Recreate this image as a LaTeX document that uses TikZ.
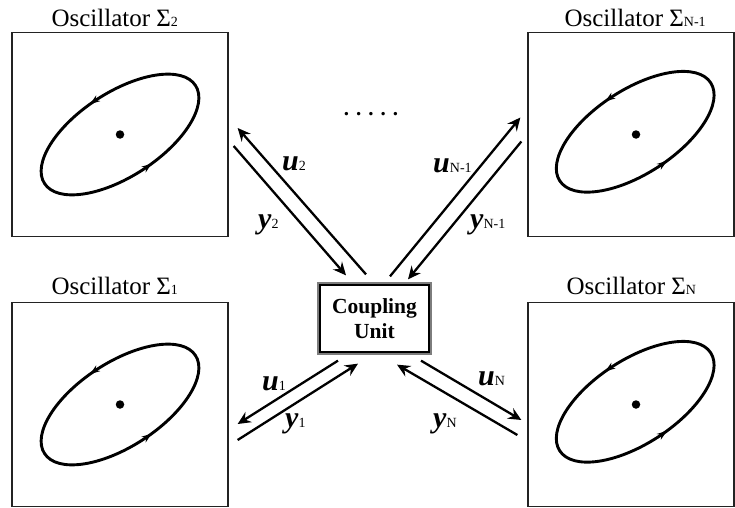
\documentclass[tikz,border=0pt]{standalone}
\usepackage{fontspec}
\setmainfont{Liberation Serif}
\usepackage{tikz}
\usetikzlibrary{arrows.meta, positioning, calc, decorations.markings}
\definecolor{myframe}{RGB}{35,35,35}
\definecolor{mygray}{RGB}{125,125,125}
\newcommand{\sbs}[1]{{\fontsize{14}{14}\selectfont #1}}
\newcommand{\sgl}[1]{\textbf{\textit{#1}}}
\tikzset{
  oscbox/.style={rectangle, draw=myframe, line width=1.3pt,
    minimum width=216pt, minimum height=204pt, inner sep=0pt},
  osclabel/.style={anchor=base west, inner sep=0pt,
    font=\fontsize{25}{27}\selectfont},
  siglabel/.style={anchor=base west, inner sep=0pt,
    font=\fontsize{30}{32}\selectfont},
  orbit/.style={line width=2.9pt, postaction={decorate},
    decoration={markings,
      mark=at position 0.27 with {\arrow{Stealth[length=10pt,width=7pt]}},
      mark=at position 0.775 with {\arrow{Stealth[length=10pt,width=7pt]}}}},
  eq/.style={circle, fill=black, inner sep=0pt, minimum size=8.5pt},
  sigarrow/.style={-{Stealth[length=13pt,width=12pt,inset=4.5pt]},
    line width=2.3pt}
}

\begin{document}
\begin{tikzpicture}[x=1pt, y=1pt,
  cunit/.style={rectangle, draw=mygray, line width=1.3pt,
    minimum width=113pt, minimum height=71pt, align=center,
    font=\fontsize{21.5}{25}\selectfont\bfseries}]
  \useasboundingbox (0,0) rectangle (735,507);
  % oscillators
  \node[oscbox] (osc2) at (120,372.5) {};
  \node[oscbox] (osc1) at (120,102.5) {};
  \node[oscbox, minimum width=206pt] (oscN1) at (631,372.5) {};
  \node[oscbox, minimum width=206pt] (oscN) at (631,102.5) {};
  \node[osclabel] (lab2) at ([shift={(40,5.5)}]osc2.north west) {Oscillator Σ\sbs{2}};
  \node[osclabel] (lab1) at ([shift={(40,7)}]osc1.north west) {Oscillator Σ\sbs{1}};
  \node[osclabel] (labN1) at ([shift={(37,5.5)}]oscN1.north west) {Oscillator Σ\sbs{N-1}};
  \node[osclabel] (labN) at ([shift={(39,7)}]oscN.north west) {Oscillator Σ\sbs{N}};
  \foreach \o/\dx in {osc2/0, osc1/0, oscN1/5, oscN/5} {
    \draw[orbit, rotate around={33:([xshift=\dx]\o.center)}]
      ([xshift=\dx]\o.center) ellipse (90 and 42);
    \node[eq] at ([xshift=\dx]\o.center) {};
  }
  \node (dots) at (371,393) {\fontsize{21}{24}\selectfont\bfseries . . . . .};
  % coupling unit
  \node[cunit] (cu) at (374.5,188.5) {Coupling\\Unit};
  \draw[line width=1.3pt] ([shift={(2.7,-2.7)}]cu.north west)
    rectangle ([shift={(-2.7,2.7)}]cu.south east);
  % signals
  \draw[sigarrow] ([shift={(-8.5,8)}]cu.north) -- ([shift={(9,6.5)}]osc2.east);
  \draw[sigarrow] ([shift={(5,-11.5)}]osc2.east) -- ([shift={(-28.5,7)}]cu.north);
  \draw[sigarrow] ([shift={(15.5,6)}]cu.north) -- ([shift={(-7,17)}]oscN1.west);
  \draw[sigarrow] ([shift={(-6,-7)}]oscN1.west) -- ([shift={(33.5,3)}]cu.north);
  \draw[sigarrow] ([shift={(-36.5,-6)}]cu.south) -- ([shift={(9,-19.5)}]osc1.east);
  \draw[sigarrow] ([shift={(9,-35.5)}]osc1.east) -- ([shift={(-16.5,-9)}]cu.south);
  \draw[sigarrow] ([shift={(-10,-30.5)}]oscN.west) -- ([shift={(22.5,-10)}]cu.south);
  \draw[sigarrow] ([shift={(46.5,-6)}]cu.south) -- ([shift={(-6,-15.5)}]oscN.west);
  \node[siglabel] (u2) at (282,337) {\sgl{u}\sbs{2}};
  \node[siglabel] (y2) at (258,279) {\sgl{y}\sbs{2}};
  \node[siglabel] (uN1) at (433,335) {\sgl{u}\sbs{N-1}};
  \node[siglabel] (yN1) at (470,279) {\sgl{y}\sbs{N-1}};
  \node[siglabel] (u1) at (262,117) {\sgl{u}\sbs{1}};
  \node[siglabel] (y1) at (285,80) {\sgl{y}\sbs{1}};
  \node[siglabel] (uN) at (478,122) {\sgl{u}\sbs{N}};
  \node[siglabel] (yN) at (433,80) {\sgl{y}\sbs{N}};
\end{tikzpicture}
\end{document}
